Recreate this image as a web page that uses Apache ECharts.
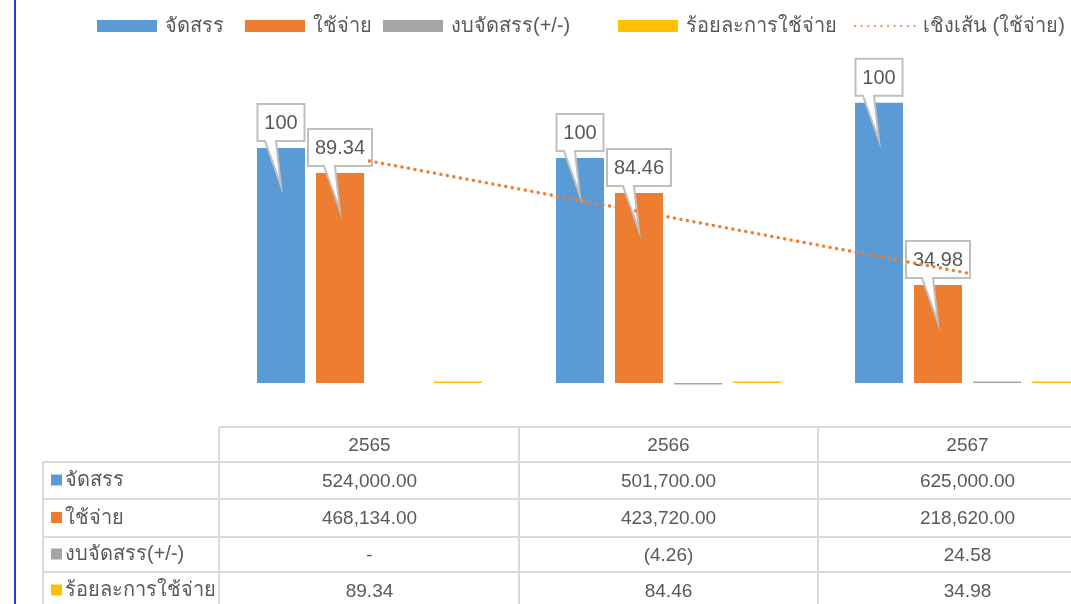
<!DOCTYPE html>
<html>
<head>
<meta charset="utf-8">
<script src="https://cdn.jsdelivr.net/npm/echarts@6/dist/echarts.min.js"></script>
<style>
  html, body { margin: 0; padding: 0; background: #fff; overflow: hidden; width: 1071px; height: 604px; }
  #chart { width: 1120px; height: 604px; }
</style>
</head>
<body>
<div id="chart"></div>
<script>
// ---- data ----
const years = ['2565', '2566', '2567'];
const seriesNames = ['จัดสรร', 'ใช้จ่าย', 'งบจัดสรร(+/-)', 'ร้อยละการใช้จ่าย'];
const trendName = 'เชิงเส้น (ใช้จ่าย)';
const allocated = [524000, 501700, 625000];
const spent = [468134, 423720, 218620];
const budgetDiff = [null, -4.26, 24.58];
const spendPct = [89.34, 84.46, 34.98];
const allocLabels = ['100', '100', '100'];
const spentLabels = ['89.34', '84.46', '34.98'];
const trendValues = [495000, 370000, 245000];

// ---- style ----
const colors = ['#5B9BD5', '#ED7D31', '#A5A5A5', '#FFC000'];
const FONT = '"Liberation Sans", "Noto Sans", sans-serif';
const TXT = '#595959';
const BAR_W = 48, BAR_STEP = 59;
const legendLefts = [97, 245, 383, 618, 854];

const measureCtx = document.createElement('canvas').getContext('2d');
function textWidth(t, size) {
  measureCtx.font = size + 'px ' + FONT;
  return measureCtx.measureText(t).width;
}

function calloutRenderer(slot, labels) {
  return function (params, api) {
    const i = api.value(0), v = api.value(1);
    const text = labels[params.dataIndex];
    const pt = api.coord([i, v]);
    const cx = pt[0] + (slot - 1.5) * BAR_STEP;
    const top = pt[1];
    const w = Math.round(textWidth(text, 20) + 14), h = 37;
    const bx = cx - w / 2, by = top - 7 - h;
    const pts = [[bx, by], [bx + w, by], [bx + w, by + h], [cx - 5, by + h],
                 [cx, top + 38], [cx - 16, by + h], [bx, by + h]];
    return {
      type: 'group',
      children: [
        { type: 'polygon', shape: { points: pts },
          style: { fill: '#fff', stroke: '#BFBFBF', lineWidth: 2 } },
        { type: 'text', style: { text: text, x: cx, y: by + h / 2 + 1, align: 'center',
          verticalAlign: 'middle', font: '20px ' + FONT, fill: TXT } }
      ]
    };
  };
}

const chart = echarts.init(document.getElementById('chart'), null, { renderer: 'canvas' });

const legendNames = seriesNames.concat([trendName]);
const legends = legendNames.map((n, k) => ({
  left: legendLefts[k], top: 16, padding: 0,
  itemWidth: 60, itemHeight: 12,
  textStyle: { fontSize: 20, color: TXT, fontFamily: FONT, padding: [0, 0, 0, 3] },
  data: [k < 4 ? { name: n, icon: 'rect' } : { name: n, itemStyle: { opacity: 0 } }]
}));

const option = {
  animation: false,
  color: colors,
  grid: { left: 220, top: 69, width: 897, height: 314 },
  legend: legends,
  xAxis: {
    type: 'category', data: years,
    axisLine: { show: false }, axisTick: { show: false }, axisLabel: { show: false }
  },
  yAxis: {
    type: 'value', min: 0, max: 700000,
    show: false, splitLine: { show: false }
  },
  series: [
    { name: seriesNames[0], type: 'bar', data: allocated, barWidth: BAR_W, barGap: '22.9%' },
    { name: seriesNames[1], type: 'bar', data: spent, barWidth: BAR_W },
    { name: seriesNames[2], type: 'bar', data: budgetDiff, barWidth: BAR_W, barMinHeight: 1.5, clip: false },
    { name: seriesNames[3], type: 'bar', data: spendPct, barWidth: BAR_W, barMinHeight: 1.5, clip: false },
    { name: 'callA', type: 'custom', z: 5, silent: true,
      data: allocated.map((v, i) => [i, v]), renderItem: calloutRenderer(0, allocLabels) },
    { name: 'callB', type: 'custom', z: 5, silent: true,
      data: spent.map((v, i) => [i, v]), renderItem: calloutRenderer(1, spentLabels) },
    { name: trendName, type: 'line', data: trendValues, symbol: 'none', z: 10,
      itemStyle: { color: '#ED7D31' },
      lineStyle: { color: '#ED7D31', width: 3.4, type: [0.1, 6.5], cap: 'round' } }
  ]
};
chart.setOption(option);

// ---- data table (drawn with graphic elements) ----
function fmtMoney(v) {
  return v.toLocaleString('en-US', { minimumFractionDigits: 2, maximumFractionDigits: 2 });
}
function fmtDiff(v) {
  if (v === null) return '-';
  if (v < 0) return '(' + fmtMoney(-v) + ')';
  return fmtMoney(v);
}
const rows = [
  allocated.map(fmtMoney),
  spent.map(fmtMoney),
  budgetDiff.map(fmtDiff),
  spendPct.map(fmtMoney)
];

const LINE = '#D9D9D9';
const tableTop = 427, rowY = [462, 499, 537, 572, 609];
const labelLeft = 43, gridLeft = 220;
const centers = years.map((y, i) => chart.convertToPixel({ xAxisIndex: 0 }, i));
const colW = centers.length > 1 ? centers[1] - centers[0] : 299;
const g = [];
function hline(x1, x2, y) {
  g.push({ type: 'line', shape: { x1, y1: y, x2, y2: y }, style: { stroke: LINE, lineWidth: 2 }, silent: true });
}
function vline(x, y1, y2) {
  g.push({ type: 'line', shape: { x1: x, y1, x2: x, y2 }, style: { stroke: LINE, lineWidth: 2 }, silent: true });
}
hline(gridLeft - 1, 1120, tableTop);
rowY.slice(0, 4).forEach(y => hline(labelLeft, 1120, y));
vline(labelLeft, rowY[0], 604);
vline(gridLeft - 1, tableTop, 604);
centers.forEach((c, i) => { if (i > 0) vline(c - colW / 2, tableTop, 604); });

years.forEach((y, i) => {
  g.push({ type: 'text', silent: true, style: { text: y, x: centers[i], y: (tableTop + rowY[0]) / 2 + 1,
    align: 'center', verticalAlign: 'middle', font: '19px ' + FONT, fill: TXT } });
});
rows.forEach((r, ri) => {
  const cy = (rowY[ri] + rowY[ri + 1]) / 2;
  g.push({ type: 'rect', silent: true, shape: { x: 51, y: cy - 6, width: 11, height: 11 },
    style: { fill: colors[ri] } });
  g.push({ type: 'text', silent: true, style: { text: seriesNames[ri], x: 65, y: cy,
    align: 'left', verticalAlign: 'middle', font: '20px ' + FONT, fill: TXT } });
  r.forEach((t, ci) => {
    g.push({ type: 'text', silent: true, style: { text: t, x: centers[ci], y: cy + 1,
      align: 'center', verticalAlign: 'middle', font: '19px ' + FONT, fill: TXT } });
  });
});
// left frame line
g.push({ type: 'rect', silent: true, shape: { x: 14, y: 0, width: 2, height: 604 }, style: { fill: '#1F3FDF' } });

chart.setOption({ graphic: { elements: g } });
</script>
</body>
</html>
